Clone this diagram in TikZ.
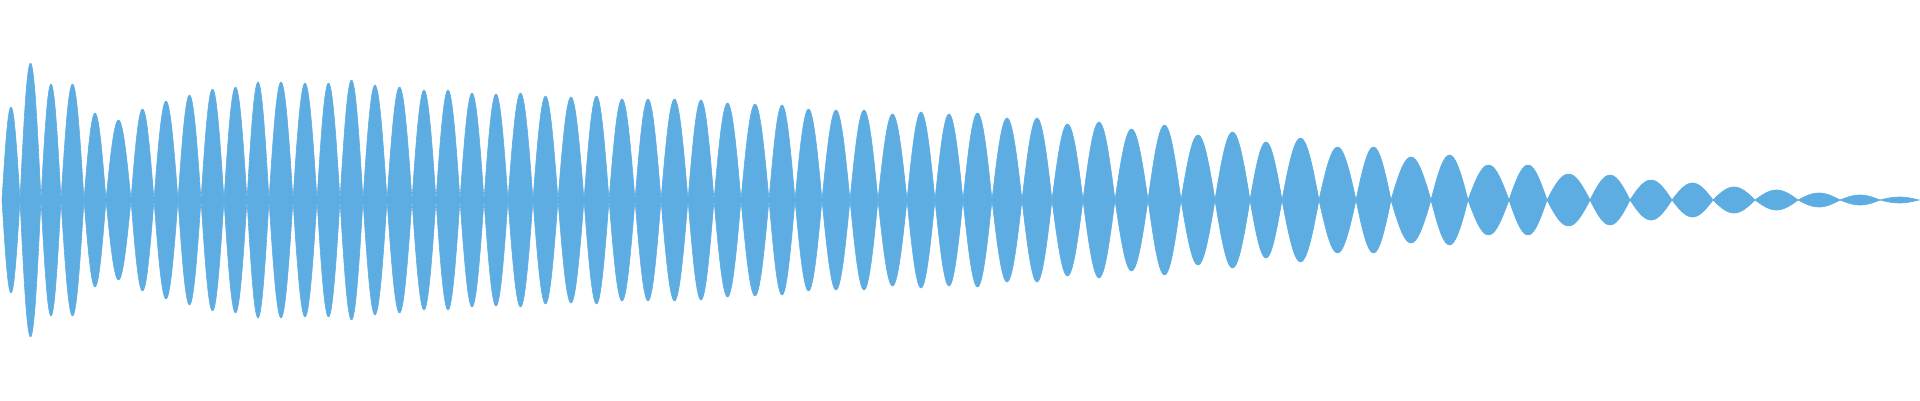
\documentclass[tikz,border=0pt]{standalone}
\begin{document}
\begin{tikzpicture}[x=1pt,y=-1pt]
\definecolor{wave}{HTML}{5DADE2}
\tikzset{lobe/.style={fill=wave,draw=wave,line width=0.6pt}}
\useasboundingbox (0,0) rectangle (1920,400);
\foreach \a/\b/\h in {2/20/93,20/41/137,41/61/116,61/84/116,84/106/87,106/131/80,131/154/91,154/178/99,178/201/105,201/224/111,224/247/113,247/269/118,269/293/118,293/317/117,317/340/117,340/363/120,363/387/115,387/412/113,412/436/110,436/460/110,460/484/107,484/508/106,508/533/107,533/558/104,558/584/103,584/609/104,609/635/101,
635/661/101,661/688/101,688/714/100,714/741/97,741/769/96,769/795/95,795/822/91,822/850/90,850/878/90,878/907/86,907/935/88,935/963/86,963/992/87,992/1022/82,1022/1052/82,1052/1083/76,1083/1115/78,1115/1148/71,1148/1181/75,1181/1215/65,1215/1250/68,1250/1282/58,
1282/1319/62,1319/1356/53,1356/1391/53,1391/1431/43,1431/1468/45,1468/1509/35,1509/1547/35,1547/1590/26,1590/1630/25,1630/1672/20,1672/1713/17,1713/1755/13,1755/1798/10,1798/1840/7,1840/1880/5,1880/1919/3}
{
  \fill[lobe] plot[domain=0:180,samples=24] ({\a+(\b-\a)*\x/180},{200-\h*sin(\x)})
    -- plot[domain=180:0,samples=24] ({\a+(\b-\a)*\x/180},{200+\h*sin(\x)}) -- cycle;
}
\end{tikzpicture}
\end{document}
